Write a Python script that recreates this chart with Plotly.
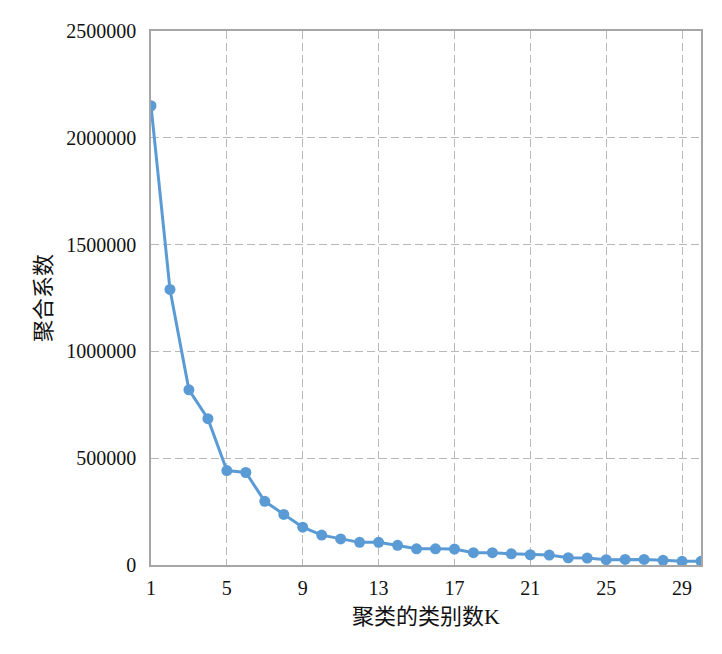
import plotly.graph_objects as go

k_values = list(range(1, 31))
coefficients = [2150000, 1290000, 820000, 685000, 442000, 433000, 298000, 237000, 177000, 140000,
                122000, 106000, 106000, 92000, 76000, 76000, 74500, 57500, 57500, 52500,
                48000, 46500, 34000, 32500, 25000, 26000, 26000, 22000, 17000, 17000]
x_ticks = [1, 5, 9, 13, 17, 21, 25, 29]
y_ticks = [0, 500000, 1000000, 1500000, 2000000, 2500000]

blue = "#5b9bd5"
serif = "Liberation Serif, Times New Roman, serif"
cjk = "Liberation Serif, Noto Sans CJK SC, sans-serif"

fig = go.Figure()
fig.add_trace(go.Scatter(
    x=k_values, y=coefficients, mode="lines+markers",
    line=dict(color=blue, width=3),
    marker=dict(color=blue, size=11),
    showlegend=False,
))

fig.update_layout(
    width=714, height=646,
    margin=dict(l=143, r=21, t=20, b=89),
    paper_bgcolor="white", plot_bgcolor="white",
    font=dict(family=serif, size=20, color="#111111"),
)
fig.update_xaxes(
    range=[1, 30], tickvals=x_ticks, ticktext=[str(v) for v in x_ticks],
    showgrid=True, gridcolor="#b8b8b8", griddash="8px,4px", gridwidth=1.2,
    showline=True, linecolor="#a6a6a6", linewidth=1.5, mirror=True,
    zeroline=False, ticks="", ticklabelstandoff=4,
    tickfont=dict(family=serif, size=20),
    title=dict(text="聚类的类别数K", font=dict(family=cjk, size=22), standoff=11),
)
fig.update_yaxes(
    range=[0, 2500000], tickvals=y_ticks, ticktext=[str(v) for v in y_ticks],
    showgrid=True, gridcolor="#b8b8b8", griddash="8px,4px", gridwidth=1.2,
    showline=True, linecolor="#a6a6a6", linewidth=1.5, mirror=True,
    zeroline=False, ticks="", ticklabelstandoff=9,
    tickfont=dict(family=serif, size=20),
    title=dict(text="聚合系数", font=dict(family=cjk, size=22), standoff=9),
)

fig.write_html("out.html")
